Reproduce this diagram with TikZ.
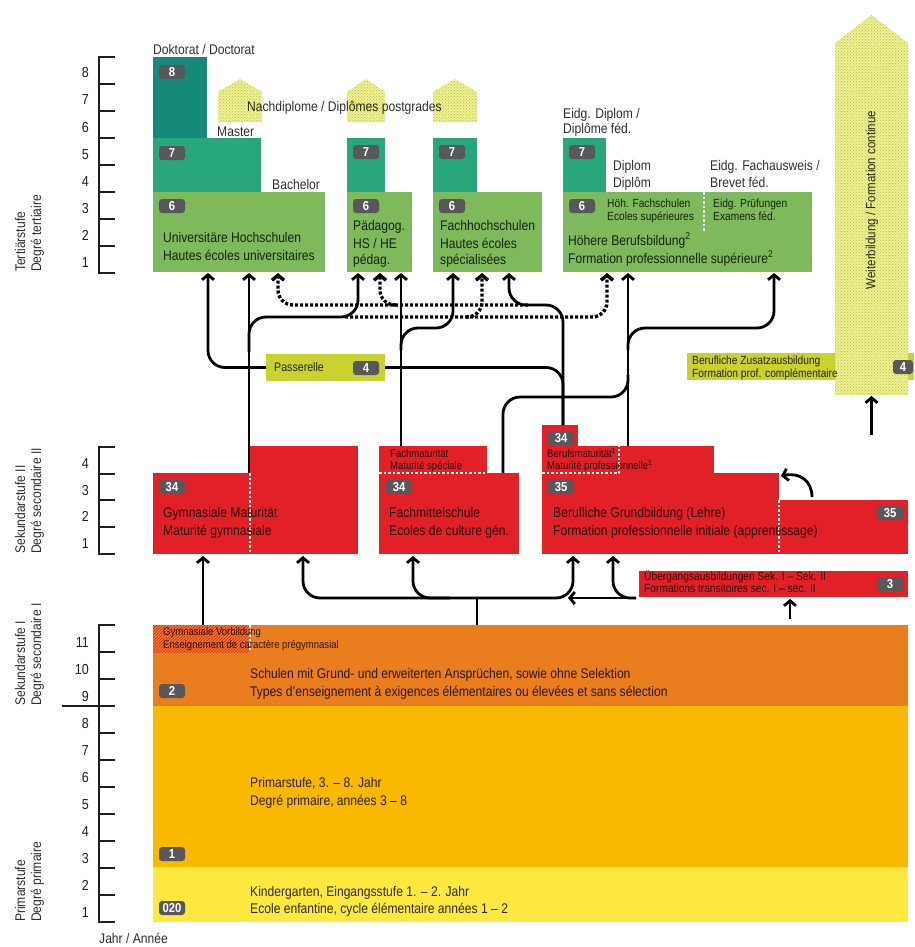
\documentclass[tikz,border=0pt]{standalone}
\usepackage{fontspec}
\setmainfont{Liberation Sans}[FakeStretch=0.865]
\usetikzlibrary{arrows.meta,patterns}
\definecolor{cDok}{RGB}{22,138,122}
\definecolor{cMas}{RGB}{40,166,124}
\definecolor{cBac}{RGB}{126,186,92}
\definecolor{cOli}{RGB}{201,210,46}
\definecolor{cRed}{RGB}{226,32,40}
\definecolor{cOra}{RGB}{234,126,30}
\definecolor{cPri}{RGB}{249,185,0}
\definecolor{cKG}{RGB}{255,233,64}
\definecolor{cPG}{RGB}{236,239,152}
\definecolor{cPGd}{RGB}{190,198,30}
\definecolor{cBadge}{RGB}{88,88,92}
\definecolor{cAxis}{RGB}{30,30,30}
\begin{document}
\begin{tikzpicture}[x=1pt,y=-1pt,font=\fontsize{14}{16}\selectfont,
  box/.style n args={3}{fill=#1,minimum width=#2,minimum height=#3,anchor=north west,inner sep=0pt,outer sep=0pt,draw=none},
  lbl/.style={anchor=base west,inner sep=0pt,text=black,text opacity=0.82},
  sml/.style={lbl,font=\fontsize{11.8}{13}\selectfont},
  tiny/.style={lbl,font=\fontsize{11}{12}\selectfont},
  num/.style={anchor=base east,inner sep=0pt,text=cAxis,font=\fontsize{14.5}{16}\selectfont},
  rlbl/.style={lbl,rotate=90},
  badge/.style={fill=cBadge,rounded corners=3pt,text=white,font=\fontsize{13}{13}\selectfont\bfseries,minimum width=26pt,minimum height=14pt,inner sep=0pt},
  tip/.style={-{Straight Barb[length=5pt,width=12pt]}},
  conn/.style={line width=2.8pt,rounded corners=17pt,tip},
  cline/.style={line width=2.8pt,rounded corners=17pt},
  dotline/.style={line width=3.4pt,dash pattern=on 3pt off 2pt,rounded corners=15pt,tip},
  wdot/.style={white,line width=1.8pt,dash pattern=on 2.5pt off 2pt},
  axis/.style={cAxis,line width=2.4pt},
  pg/.style={fill=cPG,postaction={pattern=crosshatch dots,pattern color=cPGd}}
]
\useasboundingbox (0,0) rectangle (914,947);

% ---------- tertiary boxes ----------
\node[box={cDok}{54pt}{81pt}] (dok) at (153,57) {};
\node[box={cMas}{108pt}{54pt}] (mas) at (153,138) {};
\node[box={cBac}{172pt}{80pt}] (uni) at (153,192) {};
\node[box={cMas}{38pt}{54pt}] (ph7) at (347,138) {};
\node[box={cBac}{65pt}{80pt}] (ph) at (347,192) {};
\node[box={cMas}{44pt}{54pt}] (fh7) at (433,138) {};
\node[box={cBac}{109pt}{80pt}] (fh) at (433,192) {};
\node[box={cMas}{43pt}{54pt}] (hb7) at (563,138) {};
\node[box={cBac}{249pt}{80pt}] (hbb) at (563,192) {};
\draw[wdot] (704,192) -- (704,231);

% postgraduate houses
\path[pg] (218,122) -- (218,92) -- (240,79) -- (262,92) -- (262,122) -- cycle;
\path[pg] (347,122) -- (347,92) -- (366,79) -- (385,92) -- (385,122) -- cycle;
\path[pg] (433,122) -- (433,92) -- (455,79) -- (477,92) -- (477,122) -- cycle;

% Passerelle and Zusatzausbildung
\node[box={cOli}{119pt}{27pt}] (pass) at (266,354) {};
\node[box={cOli}{227pt}{27pt}] (zus) at (687,353) {};
% Weiterbildung arrow
\path[pg] (835,395) -- (835,43) -- (871.5,15) -- (908,43) -- (908,395) -- cycle;

% ---------- secondary II ----------
\node[box={cRed}{97pt}{81pt}] (gymA) at (153,473) {};
\node[box={cRed}{108pt}{108pt}] (gymB) at (250,446) {};
\node[box={cRed}{108pt}{27pt}] (fmat) at (379,446) {};
\node[box={cRed}{140pt}{81pt}] (fms) at (379,473) {};
\node[box={cRed}{36pt}{21pt}] (bm34) at (542,425) {};
\node[box={cRed}{172pt}{27pt}] (bm) at (542,446) {};
\node[box={cRed}{237pt}{81pt}] (lehre) at (542,473) {};
\node[box={cRed}{129pt}{54pt}] (lehreB) at (779,500) {};
\node[box={cRed}{269pt}{26pt}] (ueb) at (639,571) {};
\draw[wdot] (250,473) -- (250,554);
\draw[wdot] (379,473) -- (487,473);
\draw[wdot] (542,473) -- (619,473) -- (619,446);
\draw[wdot] (779,500) -- (779,554);

% ---------- secondary I and primary ----------
\node[box={cOra}{755pt}{81pt}] (sek1) at (153,625) {};
\node[box={cPri}{755pt}{161pt}] (prim) at (153,706) {};
\node[box={cKG}{755pt}{55pt}] (kg) at (153,867) {};
\path[pattern=north east lines,pattern color=cRed] (153,625) rectangle (250,652);
\draw[wdot] (250,625) -- (250,652);

% ---------- axes ----------
\draw[axis] (115,57) -- (99,57) -- (99,273) -- (115,273);
\foreach \t in {84,111,138,165,192,219,246} \draw[axis] (99,\t) -- (115,\t);
\foreach \n/\b in {8/78,7/105,6/132,5/159,4/186,3/213,2/240,1/267} \node[num] at (89,\b) {\n};
\draw[axis] (115,447) -- (99,447) -- (99,554) -- (115,554);
\foreach \t in {474,500,527} \draw[axis] (99,\t) -- (115,\t);
\foreach \n/\b in {4/468,3/495,2/521,1/548} \node[num] at (89,\b) {\n};
\draw[axis] (115,625) -- (99,625) -- (99,922) -- (115,922);
\foreach \t in {652,679,733,760,787,814,841,868,895} \draw[axis] (99,\t) -- (115,\t);
\draw[axis] (62,706) -- (115,706);
\foreach \n/\b in {11/647,10/674,9/701,8/728,7/755,6/782,5/809,4/836,3/863,2/890,1/917} \node[num] at (89,\b) {\n};
\node[lbl] (jahr) at (99,943) {Jahr / Année};

\node[rlbl] (lt1) at (25,272) {Tertiärstufe};
\node[rlbl] (lt2) at (41,272) {Degré tertiaire};
\node[rlbl] (ls1) at (25,554) {Sekundarstufe II};
\node[rlbl] (ls2) at (41,554) {Degré secondaire II};
\node[rlbl] (lk1) at (25,706) {Sekundarstufe I};
\node[rlbl] (lk2) at (41,706) {Degré secondaire I};
\node[rlbl] (lp1) at (25,922) {Primarstufe};
\node[rlbl] (lp2) at (41,922) {Degré primaire};

% ---------- connectors ----------
\draw[conn] (pass.west) -- (208,367.5) -- (208,273);
\draw[cline] (563,425) -- (563,367.5) -- (pass.east);
\draw[conn] (563,425) -- (563,305) -- (509,305) -- (509,273);
\draw[dotline] (528,305) -- (278,305) -- (278,273);
\draw[dotline] (396,305) -- (380,305) -- (380,273);
\draw[dotline] (345,317) -- (607,317) -- (607,273);
\draw[dotline] (466,317) -- (482,317) -- (482,273);
\draw[conn] (249,473) -- (249,273);
\draw[conn] (249,352) -- (249,317) -- (358,317) -- (358,273);
\draw[conn] (401,446) -- (401,273);
\draw[conn] (401,350) -- (401,328) -- (453,328) -- (453,273);
\draw[conn] (628,446) -- (628,273);
\draw[conn] (628,350) -- (628,328) -- (774,328) -- (774,273);
\draw[cline] (503,473) -- (503,397) -- (628,397) -- (628,375);

\draw[conn] (203,625) -- (203,556);
\draw[cline] (477,625) -- (477,598);
\draw[conn] (477,598) -- (303,598) -- (303,556);
\draw[conn] (450,598) -- (413,598) -- (413,556);
\draw[conn] (477,598) -- (573,598) -- (573,556);
\draw[conn] (636,598) -- (568,598);
\draw[conn] (636,598) -- (613,598) -- (613,556);
\draw[conn] (790,619) -- (790,599);
\draw[conn] (812,497) .. controls (812,481) and (800,472) .. (781,476);
\draw[conn] (871.5,435) -- (871.5,396);

% ---------- texts ----------
\node[lbl] (tDok) at (153,55) {Doktorat / Doctorat};
\node[lbl] (tMas) at (217,136) {Master};
\node[lbl] (tBac) at (272,189) {Bachelor};
\node[lbl] (tND) at (247,112) {Nachdiplome / Diplômes postgrades};
\node[lbl] (tU1) at (163,242) {Universitäre Hochschulen};
\node[lbl] (tU2) at (163,260) {Hautes écoles universitaires};
\node[lbl] (tP1) at (353,230) {Pädagog.};
\node[lbl] (tP2) at (353,248) {HS / HE};
\node[lbl] (tP3) at (353,264) {pédag.};
\node[lbl] (tF1) at (440,230) {Fachhochschulen};
\node[lbl] (tF2) at (440,248) {Hautes écoles};
\node[lbl] (tF3) at (440,264) {spécialisées};
\node[lbl] (tE1) at (563,118) {Eidg. Diplom /};
\node[lbl] (tE2) at (563,134) {Diplôme féd.};
\node[lbl] (tD1) at (613,170) {Diplom};
\node[lbl] (tD2) at (613,187) {Diplôm};
\node[lbl] (tA1) at (710,170) {Eidg. Fachausweis /};
\node[lbl] (tA2) at (710,187) {Brevet féd.};
\node[sml] (tH1) at (607,207) {Höh. Fachschulen};
\node[sml] (tH2) at (607,220) {Ecoles supérieures};
\node[sml] (tX1) at (713,207) {Eidg. Prüfungen};
\node[sml] (tX2) at (713,220) {Examens féd.};
\node[lbl] (tB1) at (568,245) {Höhere Berufsbildung\textsuperscript{2}};
\node[lbl] (tB2) at (568,263) {Formation professionnelle supérieure\textsuperscript{2}};
\node[lbl,font=\fontsize{12.3}{14}\selectfont] (tPa) at (274,371) {Passerelle};
\node[sml] (tZ1) at (692,364) {Berufliche Zusatzausbildung};
\node[sml] (tZ2) at (692,377) {Formation prof. complémentaire};
\node[rotate=90,inner sep=0pt,text=black,text opacity=0.82,font=\fontsize{13.3}{15}\selectfont] (tWB) at (872,200) {Weiterbildung / Formation continue};

\node[lbl] (tG1) at (163,517) {Gymnasiale Maturität};
\node[lbl] (tG2) at (163,535) {Maturité gymnasiale};
\node[lbl] (tM1) at (389,517) {Fachmittelschule};
\node[lbl] (tM2) at (389,535) {Ecoles de culture gén.};
\node[tiny] (tFM1) at (390,457) {Fachmaturität};
\node[tiny] (tFM2) at (390,469.5) {Maturité spéciale};
\node[tiny] (tBM1) at (547,457) {Berufsmaturität\textsuperscript{1}};
\node[tiny] (tBM2) at (547,469.5) {Maturité professionnelle\textsuperscript{1}};
\node[lbl] (tL1) at (553,517) {Berufliche Grundbildung (Lehre)};
\node[lbl] (tL2) at (553,535) {Formation professionnelle initiale (apprentissage)};
\node[sml] (tUe1) at (644,580.5) {Übergangsausbildungen Sek. I – Sek. II};
\node[sml] (tUe2) at (644,592.5) {Formations transitoires sec. I – sec. II};

\node[tiny] (tV1) at (163,635.5) {Gymnasiale Vorbildung};
\node[tiny] (tV2) at (163,648.5) {Enseignement de caractère prégymnasial};
\node[lbl] (tS1) at (250,678) {Schulen mit Grund- und erweiterten Ansprüchen, sowie ohne Selektion};
\node[lbl] (tS2) at (250,696) {Types d’enseignement à exigences élémentaires ou élevées et sans sélection};
\node[lbl] (tR1) at (250,787) {Primarstufe, 3. – 8. Jahr};
\node[lbl] (tR2) at (250,805) {Degré primaire, années 3 – 8};
\node[lbl] (tK1) at (250,896) {Kindergarten, Eingangsstufe 1. – 2. Jahr};
\node[lbl] (tK2) at (250,913) {Ecole enfantine, cycle élémentaire années 1 – 2};

% ---------- badges ----------
\node[badge] (b8) at (172,72) {8};
\node[badge] (b7u) at (172,153) {7};
\node[badge] (b6u) at (172,206) {6};
\node[badge] (b7p) at (366,152) {7};
\node[badge] (b6p) at (366,206) {6};
\node[badge] (b7f) at (452,152) {7};
\node[badge] (b6f) at (452,206) {6};
\node[badge] (b7h) at (582,152) {7};
\node[badge] (b6h) at (582,206) {6};
\node[badge] (b4p) at (366,368) {4};
\node[badge,minimum width=20pt] (b4z) at (903,367) {4};
\node[badge] (b34g) at (172,487) {34};
\node[badge] (b34f) at (399,487) {34};
\node[badge] (b34b) at (561,438.5) {34};
\node[badge] (b35a) at (561,487) {35};
\node[badge] (b35b) at (890,513) {35};
\node[badge] (b3) at (890,584) {3};
\node[badge] (b2) at (172,691) {2};
\node[badge] (b1) at (172,854) {1};
\node[badge] (b020) at (172,908) {020};
\end{tikzpicture}
\end{document}
